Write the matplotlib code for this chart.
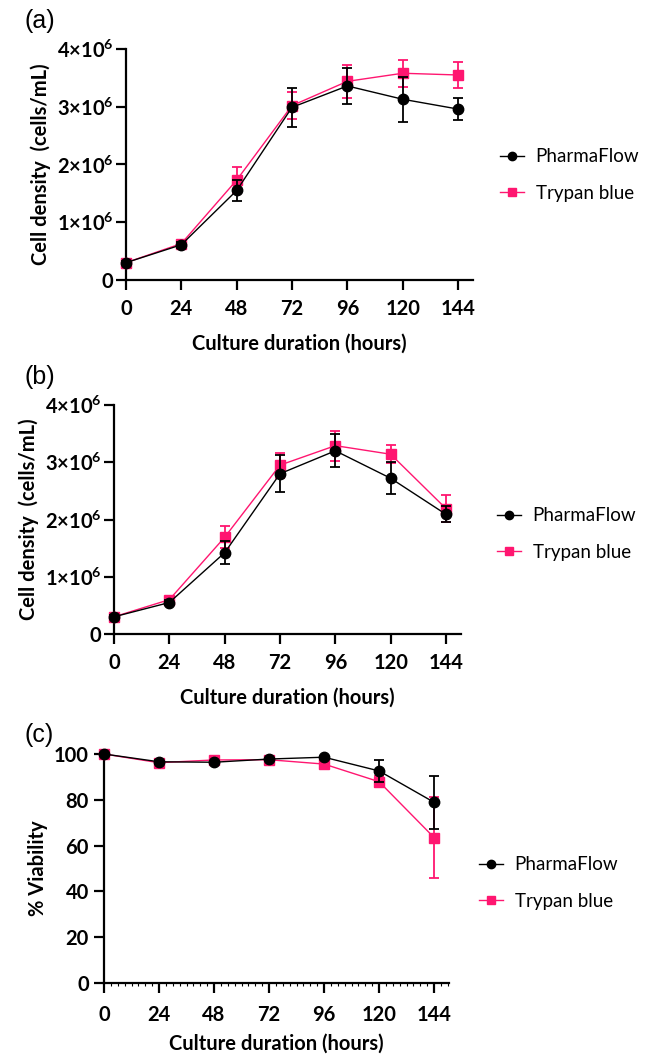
# Cell density / viability over culture time, PharmaFlow vs Trypan blue

import numpy as np
import matplotlib
matplotlib.use('Agg')
import matplotlib.pyplot as plt
from matplotlib.lines import Line2D
from matplotlib.ticker import MultipleLocator

plt.rcParams['font.family'] = ['Lato', 'DejaVu Sans']
plt.rcParams['mathtext.fontset'] = 'custom'
plt.rcParams['mathtext.rm'] = 'Lato:bold'
plt.rcParams['mathtext.default'] = 'rm'

hours = [0, 24, 48, 72, 96, 120, 144]
series_names = ['PharmaFlow', 'Trypan blue']

# (a) cell density, x1e6 cells/mL
dens_a_pf = [0.30, 0.61, 1.55, 2.99, 3.36, 3.13, 2.96]
dens_a_pf_err = [0.03, 0.05, 0.19, 0.34, 0.31, 0.39, 0.19]
dens_a_tb = [0.30, 0.63, 1.73, 3.02, 3.44, 3.58, 3.55]
dens_a_tb_err = [0.03, 0.05, 0.22, 0.23, 0.28, 0.23, 0.22]

# (b) cell density, x1e6 cells/mL
dens_b_pf = [0.30, 0.55, 1.42, 2.80, 3.20, 2.72, 2.09]
dens_b_pf_err = [0.03, 0.04, 0.20, 0.32, 0.29, 0.28, 0.14]
dens_b_tb = [0.30, 0.60, 1.69, 2.95, 3.29, 3.14, 2.19]
dens_b_tb_err = [0.03, 0.04, 0.19, 0.22, 0.26, 0.16, 0.23]

# (c) viability, %
via_pf = [100.0, 96.6, 96.4, 97.8, 98.6, 92.6, 78.9]
via_pf_err = [0.5, 0.8, 0.6, 0.6, 0.5, 4.7, 11.5]
via_tb = [100.0, 96.2, 97.4, 97.5, 95.6, 87.9, 63.5]
via_tb_err = [0.5, 0.8, 0.6, 0.6, 0.8, 2.5, 17.8]

dens_ticks = [0, 1, 2, 3, 4]
dens_ticklabels = ['0', '1×10$^6$', '2×10$^6$', '3×10$^6$', '4×10$^6$']
via_ticks = [0, 20, 40, 60, 80, 100]

pink = '#FF1670'
W, H = 651, 1054
FS = 14.5

fig = plt.figure(figsize=(W / 100, H / 100), dpi=100)


def px_axes(left, right, top, bottom):
    return fig.add_axes([left / W, 1 - bottom / H, (right - left) / W, (bottom - top) / H])


def style_axes(ax, ylabel, xpad=7, xlabelpad=10):
    for s in ['top', 'right']:
        ax.spines[s].set_visible(False)
    for s in ['left', 'bottom']:
        ax.spines[s].set_linewidth(1.6)
    ax.tick_params(width=1.6, length=7, labelsize=FS)
    ax.tick_params(axis='x', pad=xpad)
    ax.tick_params(axis='y', pad=2)
    for lab in ax.get_xticklabels() + ax.get_yticklabels():
        lab.set_fontweight('bold')
    ax.set_xticks(hours)
    ax.set_xlim(0, 150.5)
    ax.set_xlabel('Culture duration (hours)', fontsize=FS, fontweight='bold', labelpad=xlabelpad)
    ax.set_ylabel(ylabel, fontsize=FS, fontweight='bold', labelpad=4)


def draw(ax, y1, e1, y2, e2):
    ax.errorbar(hours, y1, yerr=e1, color='black', marker='o', markersize=7.5,
                linewidth=1.0, elinewidth=1.3, capsize=3.5, capthick=1.3,
                zorder=4, clip_on=False)
    ax.errorbar(hours, y2, yerr=e2, color=pink, marker='s', markersize=7,
                linewidth=1.0, elinewidth=1.3, capsize=3.5, capthick=1.3,
                zorder=3, clip_on=False)


def legend(ax, x_px, y_px):
    handles = [Line2D([], [], color='black', marker='o', markersize=6, linewidth=1.0),
               Line2D([], [], color=pink, marker='s', markersize=6, linewidth=1.0)]
    ax.legend(handles, series_names, loc='center left',
              bbox_to_anchor=(x_px / W, 1 - y_px / H), bbox_transform=fig.transFigure,
              frameon=False, fontsize=13.5, handlelength=1.3, handletextpad=0.6,
              labelspacing=1.05, borderpad=0, borderaxespad=0)


# (a)
ax1 = px_axes(126, 473, 49, 280)
draw(ax1, dens_a_pf, dens_a_pf_err, dens_a_tb, dens_a_tb_err)
ax1.set_ylim(0, 4)
ax1.set_yticks(dens_ticks)
ax1.set_yticklabels(dens_ticklabels)
style_axes(ax1, 'Cell density  (cells/mL)')
legend(ax1, 500, 175)
fig.text(24 / W, 1 - 21 / H, '(a)', fontsize=18, family='Liberation Sans', va='center')

# (b)
ax2 = px_axes(114, 461, 405, 634)
draw(ax2, dens_b_pf, dens_b_pf_err, dens_b_tb, dens_b_tb_err)
ax2.set_ylim(0, 4)
ax2.set_yticks(dens_ticks)
ax2.set_yticklabels(dens_ticklabels)
style_axes(ax2, 'Cell density  (cells/mL)')
legend(ax2, 497, 534)
fig.text(24 / W, 1 - 377 / H, '(b)', fontsize=18, family='Liberation Sans', va='center')

# (c)
ax3 = px_axes(104, 449, 754, 983)
draw(ax3, via_pf, via_pf_err, via_tb, via_tb_err)
ax3.set_ylim(0, 100)
ax3.set_yticks(via_ticks)
style_axes(ax3, '% Viability', xpad=9, xlabelpad=6)
ax3.tick_params(axis='y', pad=4)
ax3.xaxis.set_minor_locator(MultipleLocator(3))
ax3.tick_params(axis='x', which='minor', length=2.5, width=0.8)
legend(ax3, 479, 883)
fig.text(24 / W, 1 - 735 / H, '(c)', fontsize=18, family='Liberation Sans', va='center')

fig.savefig('out.png', dpi=100)
